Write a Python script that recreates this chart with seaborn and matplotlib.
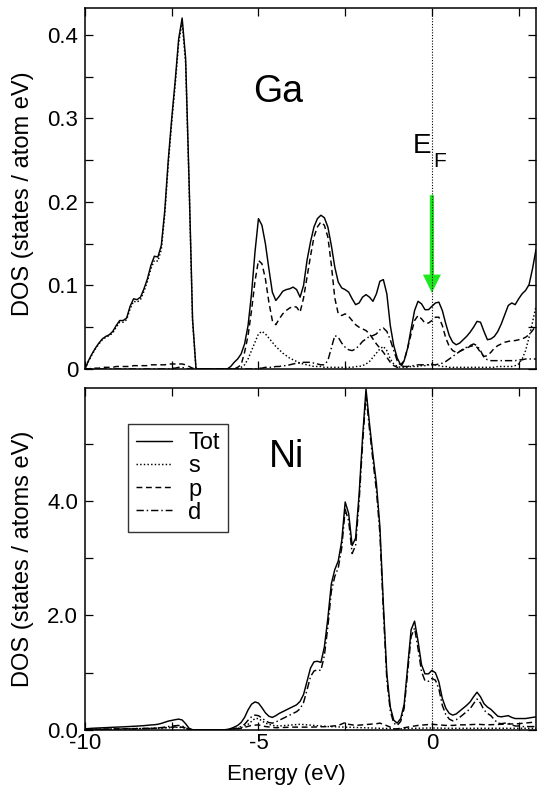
import numpy as np
import matplotlib
matplotlib.use("Agg")
import matplotlib.pyplot as plt
import seaborn as sns

# energy grid (eV), 0.1 eV steps from -10 to 3
energy = np.linspace(-10.0, 3.0, 131)

# ---- Ga partial DOS (states / atom eV) ----
ga_tot = [
    0.000, 0.010, 0.018, 0.025, 0.031, 0.036, 0.039, 0.041, 0.045, 0.052,
    0.058, 0.058, 0.061, 0.075, 0.084, 0.083, 0.086, 0.096, 0.108, 0.124,
    0.135, 0.134, 0.148, 0.190, 0.250, 0.300, 0.345, 0.395, 0.420, 0.372,
    0.225, 0.060, 0.000, 0.000, 0.000, 0.000, 0.000, 0.000, 0.000, 0.000,
    0.000, 0.000, 0.003, 0.008, 0.012, 0.018, 0.030, 0.052, 0.090, 0.140,
    0.180, 0.172, 0.150, 0.120, 0.092, 0.082, 0.087, 0.093, 0.095, 0.096,
    0.098, 0.095, 0.086, 0.100, 0.130, 0.152, 0.170, 0.180, 0.184, 0.181,
    0.170, 0.148, 0.122, 0.104, 0.097, 0.095, 0.092, 0.084, 0.077, 0.079,
    0.086, 0.089, 0.086, 0.081, 0.090, 0.105, 0.107, 0.090, 0.052, 0.028,
    0.013, 0.005, 0.010, 0.025, 0.048, 0.070, 0.081, 0.078, 0.071, 0.071,
    0.075, 0.079, 0.080, 0.070, 0.054, 0.040, 0.032, 0.029, 0.031, 0.035,
    0.039, 0.044, 0.050, 0.057, 0.056, 0.045, 0.035, 0.036, 0.039, 0.045,
    0.054, 0.065, 0.076, 0.079, 0.077, 0.084, 0.090, 0.094, 0.101, 0.120,
    0.143,
]
ga_s = [
    0.000, 0.009, 0.017, 0.024, 0.030, 0.035, 0.038, 0.040, 0.043, 0.050,
    0.056, 0.056, 0.059, 0.072, 0.081, 0.080, 0.083, 0.093, 0.105, 0.120,
    0.130, 0.129, 0.143, 0.185, 0.245, 0.295, 0.340, 0.390, 0.415, 0.366,
    0.220, 0.058, 0.000, 0.000, 0.000, 0.000, 0.000, 0.000, 0.000, 0.000,
    0.000, 0.000, 0.000, 0.000, 0.000, 0.002, 0.005, 0.012, 0.022, 0.032,
    0.042, 0.045, 0.042, 0.037, 0.032, 0.027, 0.023, 0.019, 0.016, 0.013,
    0.011, 0.009, 0.007, 0.006, 0.005, 0.004, 0.003, 0.003, 0.003, 0.002,
    0.002, 0.002, 0.002, 0.002, 0.002, 0.002, 0.002, 0.002, 0.003, 0.003,
    0.004, 0.006, 0.009, 0.014, 0.019, 0.024, 0.027, 0.022, 0.012, 0.006,
    0.003, 0.002, 0.002, 0.002, 0.003, 0.003, 0.003, 0.004, 0.004, 0.005,
    0.006, 0.005, 0.004, 0.003, 0.003, 0.002, 0.002, 0.002, 0.002, 0.002,
    0.002, 0.002, 0.002, 0.002, 0.002, 0.002, 0.002, 0.002, 0.002, 0.003,
    0.003, 0.003, 0.003, 0.003, 0.004, 0.006, 0.012, 0.022, 0.038, 0.056,
    0.075,
]
ga_p = [
    0.000, 0.000, 0.001, 0.001, 0.001, 0.002, 0.002, 0.002, 0.002, 0.003,
    0.003, 0.003, 0.003, 0.003, 0.004, 0.004, 0.004, 0.004, 0.004, 0.005,
    0.005, 0.005, 0.005, 0.005, 0.006, 0.006, 0.006, 0.006, 0.006, 0.005,
    0.003, 0.001, 0.000, 0.000, 0.000, 0.000, 0.000, 0.000, 0.000, 0.000,
    0.000, 0.000, 0.000, 0.000, 0.002, 0.005, 0.020, 0.040, 0.070, 0.105,
    0.130, 0.126, 0.108, 0.080, 0.058, 0.053, 0.060, 0.066, 0.070, 0.073,
    0.075, 0.074, 0.068, 0.085, 0.110, 0.135, 0.158, 0.170, 0.176, 0.172,
    0.158, 0.125, 0.085, 0.066, 0.064, 0.066, 0.063, 0.058, 0.053, 0.050,
    0.048, 0.046, 0.042, 0.036, 0.030, 0.025, 0.020, 0.014, 0.008, 0.004,
    0.002, 0.002, 0.010, 0.025, 0.042, 0.058, 0.064, 0.060, 0.055, 0.055,
    0.058, 0.062, 0.062, 0.052, 0.037, 0.027, 0.022, 0.020, 0.021, 0.023,
    0.025, 0.027, 0.028, 0.026, 0.020, 0.015, 0.016, 0.020, 0.025, 0.028,
    0.030, 0.032, 0.033, 0.034, 0.034, 0.035, 0.036, 0.038, 0.041, 0.046,
    0.052,
]
ga_d = [
    0.000, 0.000, 0.000, 0.000, 0.000, 0.000, 0.000, 0.000, 0.000, 0.000,
    0.000, 0.000, 0.000, 0.000, 0.000, 0.000, 0.000, 0.000, 0.000, 0.000,
    0.000, 0.000, 0.000, 0.000, 0.000, 0.001, 0.001, 0.002, 0.002, 0.001,
    0.000, 0.000, 0.000, 0.000, 0.000, 0.000, 0.000, 0.000, 0.000, 0.000,
    0.000, 0.000, 0.000, 0.000, 0.000, 0.000, 0.000, 0.000, 0.000, 0.000,
    0.001, 0.001, 0.002, 0.002, 0.002, 0.003, 0.003, 0.004, 0.004, 0.005,
    0.006, 0.007, 0.007, 0.008, 0.008, 0.008, 0.007, 0.006, 0.005, 0.005,
    0.010, 0.025, 0.040, 0.038, 0.031, 0.026, 0.023, 0.022, 0.024, 0.028,
    0.033, 0.036, 0.039, 0.040, 0.042, 0.047, 0.049, 0.045, 0.035, 0.022,
    0.010, 0.004, 0.003, 0.003, 0.004, 0.004, 0.005, 0.005, 0.005, 0.005,
    0.005, 0.005, 0.006, 0.007, 0.009, 0.012, 0.015, 0.018, 0.021, 0.024,
    0.026, 0.028, 0.030, 0.028, 0.022, 0.014, 0.011, 0.010, 0.010, 0.010,
    0.010, 0.010, 0.010, 0.010, 0.010, 0.011, 0.011, 0.012, 0.012, 0.012,
    0.012,
]

# ---- Ni partial DOS (states / atoms eV) ----
ni_tot = [
    0.020, 0.025, 0.030, 0.033, 0.036, 0.040, 0.042, 0.045, 0.048, 0.050,
    0.052, 0.055, 0.058, 0.062, 0.065, 0.068, 0.072, 0.076, 0.082, 0.088,
    0.092, 0.100, 0.115, 0.135, 0.155, 0.168, 0.180, 0.190, 0.175, 0.110,
    0.030, 0.005, 0.003, 0.003, 0.003, 0.003, 0.003, 0.003, 0.003, 0.003,
    0.003, 0.010, 0.025, 0.050, 0.080, 0.130, 0.220, 0.350, 0.450, 0.490,
    0.470, 0.390, 0.300, 0.240, 0.220, 0.250, 0.290, 0.320, 0.350, 0.380,
    0.410, 0.440, 0.500, 0.620, 0.850, 1.080, 1.190, 1.200, 1.180, 1.450,
    1.950, 2.550, 2.800, 2.950, 3.300, 3.980, 3.780, 3.220, 3.350, 4.100,
    5.100, 5.950, 5.350, 4.800, 4.300, 3.550, 2.200, 0.980, 0.400, 0.170,
    0.120, 0.200, 0.450, 1.100, 1.750, 1.900, 1.550, 1.140, 0.980, 0.980,
    1.040, 1.000, 0.840, 0.550, 0.380, 0.290, 0.260, 0.280, 0.330, 0.380,
    0.430, 0.490, 0.580, 0.660, 0.580, 0.460, 0.400, 0.360, 0.300, 0.240,
    0.230, 0.240, 0.250, 0.220, 0.200, 0.200, 0.200, 0.200, 0.210, 0.220,
    0.230,
]
ni_d = [
    0.005, 0.006, 0.007, 0.008, 0.009, 0.010, 0.011, 0.012, 0.013, 0.014,
    0.015, 0.016, 0.017, 0.018, 0.019, 0.020, 0.022, 0.024, 0.026, 0.028,
    0.030, 0.035, 0.042, 0.050, 0.060, 0.070, 0.075, 0.080, 0.070, 0.040,
    0.010, 0.001, 0.000, 0.000, 0.000, 0.000, 0.000, 0.000, 0.000, 0.000,
    0.000, 0.003, 0.010, 0.025, 0.040, 0.060, 0.100, 0.170, 0.230, 0.260,
    0.250, 0.210, 0.160, 0.130, 0.120, 0.140, 0.170, 0.200, 0.230, 0.260,
    0.290, 0.320, 0.370, 0.480, 0.700, 0.930, 1.030, 1.050, 1.040, 1.300,
    1.800, 2.420, 2.680, 2.830, 3.180, 3.850, 3.650, 3.080, 3.220, 3.980,
    4.980, 5.850, 5.250, 4.700, 4.180, 3.430, 2.080, 0.880, 0.330, 0.120,
    0.080, 0.150, 0.380, 1.000, 1.630, 1.780, 1.420, 1.020, 0.860, 0.850,
    0.900, 0.870, 0.720, 0.430, 0.270, 0.190, 0.160, 0.180, 0.220, 0.270,
    0.320, 0.370, 0.460, 0.540, 0.470, 0.350, 0.290, 0.250, 0.180, 0.120,
    0.110, 0.120, 0.120, 0.090, 0.070, 0.070, 0.060, 0.060, 0.060, 0.060,
    0.060,
]
ni_s_e = [-10, -9, -8, -7.5, -7.3, -7.1, -7.0, -6.9, -6.0, -5.8, -5.5, -5.3,
          -5.1, -5.0, -4.8, -4.6, -4.4, -4.2, -4.0, -3.8, -3.6, -3.4, -3.0,
          -2.5, -2.0, -1.5, -1.0, -0.5, 0.0, 0.5, 1.0, 2.0, 3.0]
ni_s = [0.005, 0.02, 0.03, 0.04, 0.05, 0.03, 0.01, 0.0, 0.0, 0.005, 0.04, 0.10,
        0.20, 0.20, 0.12, 0.08, 0.07, 0.08, 0.09, 0.10, 0.09, 0.08, 0.06,
        0.05, 0.04, 0.03, 0.02, 0.03, 0.035, 0.03, 0.03, 0.03, 0.03]
ni_p_e = [-10, -9.5, -9, -8.5, -8, -7.5, -7.3, -7.1, -7.0, -6.9, -6.0, -5.8,
          -5.5, -5.2, -5.0, -4.8, -4.5, -4.0, -3.5, -3.0, -2.7, -2.5, -2.4,
          -2.2, -2.0, -1.8, -1.6, -1.5, -1.4, -1.2, -1.1, -1.0, -0.8, -0.6,
          -0.4, -0.2, 0.0, 0.2, 0.4, 0.6, 0.8, 1.0, 1.3, 1.6, 2.0, 2.5, 3.0]
ni_p = [0.01, 0.015, 0.02, 0.025, 0.03, 0.05, 0.055, 0.04, 0.01, 0.002, 0.002,
        0.005, 0.03, 0.08, 0.09, 0.06, 0.04, 0.05, 0.05, 0.06, 0.08, 0.13,
        0.10, 0.08, 0.09, 0.10, 0.11, 0.12, 0.10, 0.05, 0.02, 0.02, 0.04,
        0.06, 0.08, 0.09, 0.10, 0.09, 0.08, 0.08, 0.09, 0.09, 0.10, 0.09,
        0.10, 0.11, 0.14]

# Fermi-level arrow (Ga panel)
arrow_top = 0.208
arrow_tip = 0.091

sns.set_style("ticks")
plt.rcParams["font.family"] = ["Liberation Sans", "DejaVu Sans"]
plt.rcParams["axes.unicode_minus"] = False
plt.rcParams["axes.linewidth"] = 1.1
for key in ("text.color", "axes.labelcolor", "xtick.color", "ytick.color", "axes.edgecolor"):
    plt.rcParams[key] = "black"

DOT = (0, (1, 1.5))
DASH = (0, (4, 2.5))
DASHDOT = (0, (5, 2, 1, 2))
LW = 1.05

fig = plt.figure(figsize=(5.37, 7.89), dpi=100)
W, H = 537.0, 789.0
ax1 = fig.add_axes([85 / W, 1 - 369 / H, 451 / W, 361 / H])
ax2 = fig.add_axes([85 / W, 1 - 730 / H, 451 / W, 342 / H])

# Ga panel
sns.lineplot(x=energy, y=ga_tot, ax=ax1, color="black", lw=LW, linestyle="-")
sns.lineplot(x=energy, y=ga_s, ax=ax1, color="black", lw=LW, linestyle=DOT)
sns.lineplot(x=energy, y=ga_p, ax=ax1, color="black", lw=LW, linestyle=DASH)
sns.lineplot(x=energy, y=ga_d, ax=ax1, color="black", lw=LW, linestyle=DASHDOT)

# Ni panel
sns.lineplot(x=energy, y=ni_tot, ax=ax2, color="black", lw=LW, linestyle="-", label="Tot")
sns.lineplot(x=ni_s_e, y=ni_s, ax=ax2, color="black", lw=LW, linestyle=DOT, label="s")
sns.lineplot(x=ni_p_e, y=ni_p, ax=ax2, color="black", lw=LW, linestyle=DASH, label="p")
sns.lineplot(x=energy, y=ni_d, ax=ax2, color="black", lw=LW, linestyle=DASHDOT, label="d")

for ax in (ax1, ax2):
    ax.axvline(0, color="black", lw=0.8, linestyle=DOT)
    ax.set_xlim(-10, 3)
    ax.set_xticks([-10, -5, 0])
    ax.set_xticks([-7.5, -2.5, 2.5], minor=True)
    ax.tick_params(which="both", direction="in", top=True, right=True,
                   length=6, width=0.9, labelsize=16, colors="black")
    ax.tick_params(axis="x", pad=2)
    ax.tick_params(axis="y", pad=5)
    ax.set_xlabel("")

ax1.set_ylim(0, 0.432)
ax1.set_yticks([0, 0.1, 0.2, 0.3, 0.4])
ax1.set_yticklabels(["0", "0.1", "0.2", "0.3", "0.4"])
ax1.set_yticks([0.05, 0.15, 0.25, 0.35], minor=True)
ax1.tick_params(axis="x", labelbottom=False)
ax1.set_ylabel("DOS (states / atom eV)", fontsize=17)
ax1.yaxis.set_label_coords(-0.112, 0.486)

ax2.set_ylim(0, 5.97)
ax2.set_yticks([0, 2, 4])
ax2.set_yticklabels(["0.0", "2.0", "4.0"])
ax2.set_yticks([1, 3, 5], minor=True)
ax2.set_xticklabels(["-10", "-5", "0"])
ax2.set_ylabel("DOS (states / atoms eV)", fontsize=17)
ax2.yaxis.set_label_coords(-0.112, 0.5)
ax2.set_xlabel("Energy (eV)", fontsize=16)
ax2.xaxis.set_label_coords(0.446, -0.098)

# labels inside panels
ax1.text(-4.44, 0.331, "Ga", fontsize=27, ha="center", va="center")
ax2.text(-4.2, 4.77, "Ni", fontsize=27, ha="center", va="center")
ax1.text(-0.54, 0.258, "E", fontsize=20, ha="left", va="baseline")
ax1.text(0.05, 0.242, "F", fontsize=15, ha="left", va="baseline")

ax1.arrow(0, arrow_top, 0, arrow_tip - arrow_top, width=0.12, head_width=0.52,
          head_length=0.022, length_includes_head=True, color="#1ee81e", lw=0)

leg = ax2.legend(loc="upper left", bbox_to_anchor=(0.095, 0.895), borderaxespad=0,
                 fontsize=17, frameon=True, fancybox=False, handlelength=1.5,
                 handletextpad=0.7, labelspacing=0.05, borderpad=0.35)
leg.get_frame().set_edgecolor("black")
leg.get_frame().set_linewidth(1.0)
for t in leg.get_texts():
    t.set_color("black")

fig.savefig("out.png", dpi=100)
